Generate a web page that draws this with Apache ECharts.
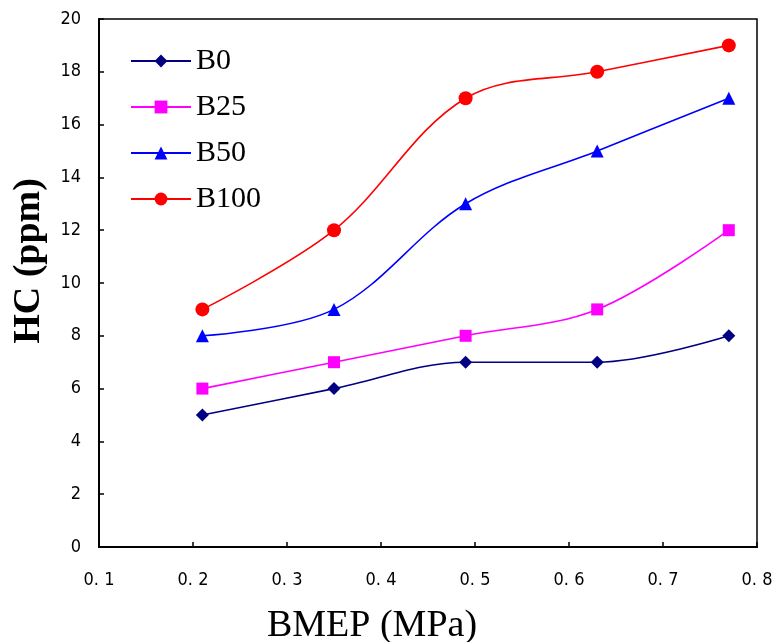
<!DOCTYPE html>
<html lang="en">
<head>
    <meta charset="UTF-8">
    <title>HC vs BMEP</title>
    <script src="https://cdn.jsdelivr.net/npm/echarts@6/dist/echarts.min.js"></script>
    <style>
        html, body {margin: 0; padding: 0; background: #fff;}
    </style>
</head>
<body>
<div id="main" style="width: 775px;height: 642px"></div>
<script type="text/javascript">
    var bmep = [0.21, 0.35, 0.49, 0.63, 0.77];
    var b0 = [5, 6, 7, 7, 8];
    var b25 = [6, 7, 8, 9, 12];
    var b50 = [8, 9, 13, 15, 17];
    var b100 = [9, 12, 17, 18, 19];
    var names = ['B0', 'B25', 'B50', 'B100'];

    function pairs(ys) {
        return bmep.map(function (x, i) { return [x, ys[i]]; });
    }

    var myChart = echarts.init(document.getElementById('main'));

    function line(name, ys, color, symbol, size) {
        return {
            name: name,
            type: 'line',
            data: pairs(ys),
            smooth: 0.35,
            symbol: symbol,
            symbolSize: size,
            itemStyle: {color: color},
            lineStyle: {color: color, width: 1.6}
        };
    }

    var option = {
        animation: false,
        grid: {
            left: 99, right: 18, top: 19, bottom: 95,
            outerBoundsMode: 'none',
            containLabel: false,
            show: true, borderColor: '#000', borderWidth: 1.5
        },
        legend: {
            orient: 'vertical',
            left: 125,
            top: 41,
            itemWidth: 60,
            itemHeight: 16,
            itemGap: 16,
            data: names,
            textStyle: {fontFamily: 'Liberation Serif', fontSize: 30, color: '#000'}
        },
        xAxis: {
            type: 'value',
            min: 0.1, max: 0.8, interval: 0.1,
            name: 'BMEP (MPa)',
            nameLocation: 'middle',
            nameGap: 60,
            nameTextStyle: {
                fontFamily: 'Liberation Serif', fontSize: 38, color: '#000',
                padding: [0, 112, 0, 0]
            },
            axisLine: {lineStyle: {color: '#000', width: 2}},
            axisTick: {inside: true, length: 5, lineStyle: {color: '#000', width: 1.5}},
            axisLabel: {
                margin: 24,
                fontFamily: 'DejaVu Sans Condensed', fontSize: 18, color: '#000',
                formatter: function (v) { return v.toFixed(1).replace('.', '. '); }
            },
            splitLine: {show: false}
        },
        yAxis: {
            type: 'value',
            min: 0, max: 20, interval: 2,
            name: 'HC (ppm)',
            nameLocation: 'middle',
            nameGap: 51,
            nameTextStyle: {
                fontFamily: 'Liberation Serif', fontSize: 38, fontWeight: 'bold', color: '#000',
                padding: [0, 0, 0, 44]
            },
            axisLine: {show: true, lineStyle: {color: '#000', width: 2}},
            axisTick: {show: true, inside: true, length: 5, lineStyle: {color: '#000', width: 1.5}},
            axisLabel: {margin: 18, fontFamily: 'DejaVu Sans Condensed', fontSize: 18, color: '#000'},
            splitLine: {show: false}
        },
        series: [
            line('B0', b0, '#000080', 'diamond', 13),
            line('B25', b25, '#ff00ff', 'rect', 12),
            line('B50', b50, '#0000ff', 'triangle', 13),
            line('B100', b100, '#ff0000', 'circle', 14)
        ]
    };

    myChart.setOption(option);
</script>
</body>
</html>
